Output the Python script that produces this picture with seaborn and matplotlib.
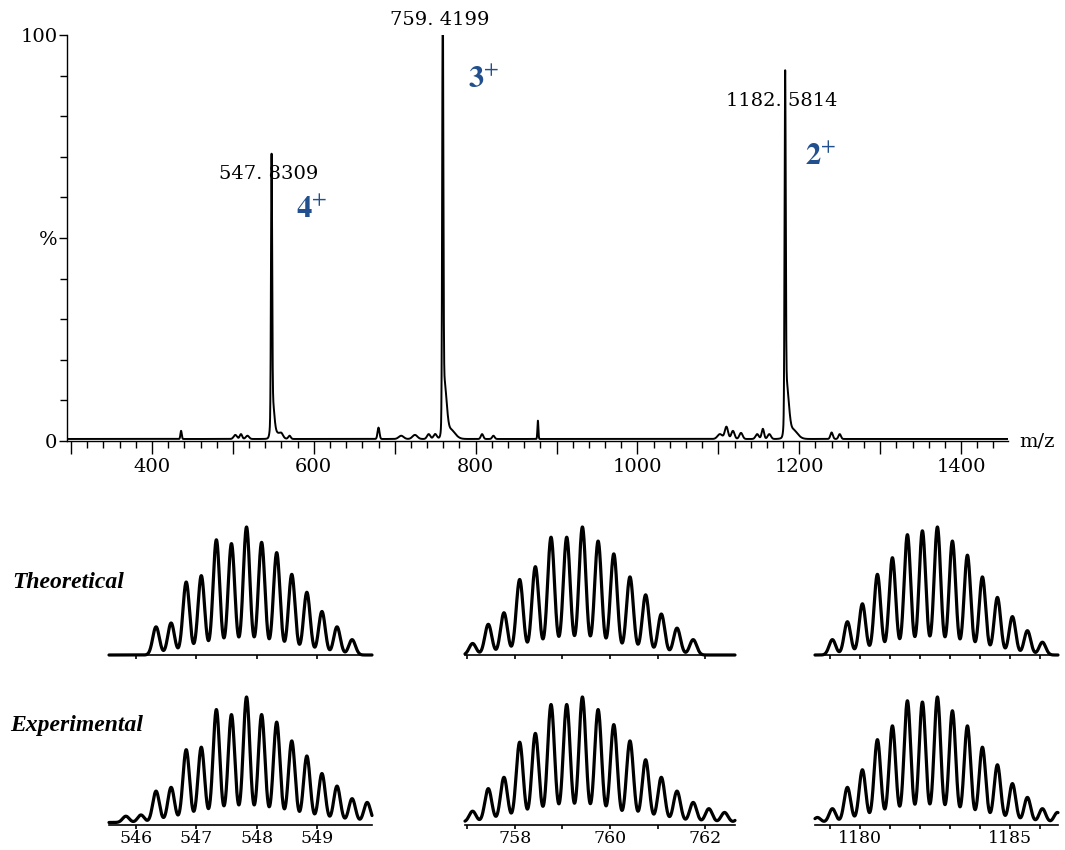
import numpy as np
import seaborn as sns
import matplotlib.pyplot as plt
from matplotlib.ticker import MultipleLocator, FixedLocator, FixedFormatter

sns.set_style('ticks')
plt.rcParams['font.family'] = ['DejaVu Serif']
plt.rcParams['mathtext.fontset'] = 'stix'
plt.rcParams['text.color'] = 'black'
plt.rcParams['axes.edgecolor'] = 'black'
plt.rcParams['xtick.color'] = 'black'
plt.rcParams['ytick.color'] = 'black'

# ---- isotope envelopes (m/z, relative intensity %) ----
mz4_theo = [546.33, 546.58, 546.83, 547.08, 547.33, 547.58, 547.83, 548.08,
            548.33, 548.58, 548.83, 549.08, 549.33, 549.58]
int4_theo = [22, 25, 57, 62, 90, 87, 100, 88, 80, 63, 49, 34, 22, 12]
mz4_exp = [545.83, 546.08, 546.33, 546.58, 546.83, 547.08, 547.33, 547.58, 547.83,
           548.08, 548.33, 548.58, 548.83, 549.08, 549.33, 549.58, 549.83]
int4_exp = [5, 6, 25, 28, 58, 60, 90, 86, 100, 86, 80, 65, 53, 39, 29, 19, 16]

mz3_theo = [757.11, 757.44, 757.77, 758.10, 758.43, 758.76, 759.09, 759.42,
            759.75, 760.08, 760.42, 760.75, 761.08, 761.41, 761.75]
int3_theo = [9, 24, 33, 59, 69, 92, 92, 100, 89, 79, 61, 47, 32, 21, 12]
mz3_exp = [756.78, 757.11, 757.44, 757.77, 758.10, 758.43, 758.76, 759.09, 759.42,
           759.75, 760.08, 760.42, 760.75, 761.08, 761.41, 761.75, 762.08, 762.41, 762.75]
int3_exp = [4, 9, 27, 36, 64, 71, 94, 94, 100, 90, 78, 65, 50, 36, 25, 16, 11, 8, 6]

mz2_theo = [1179.08, 1179.58, 1180.08, 1180.58, 1181.08, 1181.58, 1182.08, 1182.58,
            1183.08, 1183.58, 1184.08, 1184.58, 1185.08, 1185.58, 1186.08]
int2_theo = [12, 26, 40, 63, 76, 94, 97, 100, 89, 78, 61, 45, 30, 19, 10]
mz2_exp = [1178.08, 1178.58, 1179.08, 1179.58, 1180.08, 1180.58, 1181.08, 1181.58, 1182.08,
           1182.58, 1183.08, 1183.58, 1184.08, 1184.58, 1185.08, 1185.58, 1186.08, 1186.58]
int2_exp = [3, 4, 11, 28, 42, 66, 77, 97, 96, 100, 89, 77, 60, 46, 31, 20, 11, 8]

# ---- full scan: base peaks, their feet/tails, and small noise peaks ----
base_mz = [547.83, 759.42, 1182.58]
base_int = [62, 100, 80]
foot_mz = [548.5, 760.5, 1183.5, 550, 763, 1186, 554, 768, 1191]
foot_int = [6, 9, 9, 3.5, 7, 6.5, 1.5, 2.5, 2.5]
foot_sd = [1.8, 1.8, 1.8, 2, 2.2, 2.2, 5, 6, 6]
noise_mz = [436, 503, 510, 518, 560, 570, 680, 708, 725, 742, 750, 808, 822, 877,
            1102, 1110, 1118, 1128, 1148, 1155, 1163, 1240, 1250]
noise_int = [2, 1, 1.2, 0.8, 0.8, 0.8, 2.8, 0.8, 1, 1.2, 1.2, 1.2, 0.8, 4.5,
             1.2, 3, 2, 1.5, 1.2, 2.5, 1.2, 1.6, 1.2]
noise_sd = [0.8, 2, 1.5, 2, 2, 1.5, 1.2, 3, 3, 2, 2, 1.5, 1.5, 0.6,
            3, 2, 2, 2, 2, 1.5, 2, 1.5, 1.5]

peak_labels = ['547. 8309', '759. 4199', '1182. 5814']
charge_labels = [r'$\mathbf{4}^{+}$', r'$\mathbf{3}^{+}$', r'$\mathbf{2}^{+}$']
charge_pos = [(598, 57), (810, 89), (1226, 70)]


def profile(x, mz, inten, sd):
    x = np.asarray(x)[:, None]
    mz = np.asarray(mz, float)[None, :]
    inten = np.asarray(inten, float)[None, :]
    sd = np.broadcast_to(np.asarray(sd, float), mz.shape[1:])[None, :]
    return (inten * np.exp(-(x - mz) ** 2 / (2 * sd ** 2))).sum(axis=1)


fig = plt.figure(figsize=(10.65, 8.5), dpi=100)
W, H = 1065, 850


def rect(x0, x1, ytop, ybot):
    return [x0 / W, 1 - ybot / H, (x1 - x0) / W, (ybot - ytop) / H]


# ---------------- main spectrum ----------------
ax = fig.add_axes(rect(67, 1008, 35, 441))
grid = np.arange(295, 1458, 0.05)
spec = (0.5 + profile(grid, base_mz, base_int, 0.7)
        + profile(grid, foot_mz, foot_int, foot_sd)
        + profile(grid, noise_mz, noise_int, noise_sd))
sns.lineplot(x=grid, y=spec, ax=ax, color='black', linewidth=1.4, estimator=None)
ax.set_xlim(295, 1458)
ax.set_ylim(0, 100)
sns.despine(ax=ax)
ax.spines['left'].set_linewidth(1.0)
ax.spines['bottom'].set_linewidth(1.0)
xt = list(range(300, 1500, 100))
ax.xaxis.set_major_locator(FixedLocator(xt))
ax.xaxis.set_major_formatter(FixedFormatter([str(v) if v % 200 == 0 else '' for v in xt]))
ax.xaxis.set_minor_locator(MultipleLocator(20))
ax.yaxis.set_major_locator(FixedLocator([0, 50, 100]))
ax.yaxis.set_major_formatter(FixedFormatter(['0', '%', '100']))
ax.yaxis.set_minor_locator(MultipleLocator(10))
ax.tick_params(axis='x', which='major', length=9, width=1, labelsize=14, pad=3)
ax.tick_params(axis='x', which='minor', length=5, width=1)
ax.tick_params(axis='y', which='major', length=6, width=1, labelsize=14, pad=1)
ax.tick_params(axis='y', which='minor', length=5, width=1)
ax.set_xlabel('')
ax.text(1.012, 0, 'm/z', transform=ax.transAxes, fontsize=14, va='center', ha='left')

for lab, mz, h in zip(peak_labels, base_mz, base_int):
    ax.text(mz - 4, h + 1.5, lab, ha='center', va='bottom', fontsize=14, clip_on=False)
for lab, (px, py) in zip(charge_labels, charge_pos):
    ax.text(px, py, lab, ha='center', va='center', fontsize=22, color='#22508f')

# ---------------- isotope insets ----------------
cols = [
    (109, 372, (545.55, 549.91), [546, 547, 548, 549], ['546', '547', '548', '549'],
     mz4_theo, int4_theo, mz4_exp, int4_exp, 0.25),
    (465, 735, (756.95, 762.63), [757, 758, 759, 760, 761, 762], ['', '758', '', '760', '', '762'],
     mz3_theo, int3_theo, mz3_exp, int3_exp, 0.333),
    (815, 1058, (1178.5, 1186.6), list(range(1179, 1187)), ['', '1180', '', '', '', '', '1185', ''],
     mz2_theo, int2_theo, mz2_exp, int2_exp, 0.5),
]
rows = [(527, 655, 'theo'), (697, 825, 'exp')]

for x0, x1, xl, ticks, tlabs, mzt, itt, mze, ite, sp in cols:
    for ytop, ybot, kind in rows:
        a = fig.add_axes(rect(x0, x1, ytop, ybot))
        g = np.linspace(xl[0], xl[1], 2500)
        if kind == 'theo':
            y = profile(g, mzt, itt, 0.22 * sp)
        else:
            y = 2 + profile(g, mze, ite, 0.22 * sp)
        y = y * 100 / y.max()
        sns.lineplot(x=g, y=y, ax=a, color='black', linewidth=2.3, estimator=None)
        for ln in a.lines:
            ln.set_clip_on(False)
        a.set_xlim(*xl)
        a.set_ylim(0, 100)
        for s in ['left', 'right', 'top']:
            a.spines[s].set_visible(False)
        a.spines['bottom'].set_linewidth(1.2)
        a.set_yticks([])
        a.set_xticks(ticks)
        a.tick_params(axis='x', length=3, width=1.2, labelsize=12.5, pad=0.5)
        if kind == 'exp':
            a.set_xticklabels(tlabs)
        else:
            a.set_xticklabels([])
        a.set_facecolor('none')

fig.text(12 / W, 1 - 583 / H, 'Theoretical', fontsize=17, fontweight='bold', fontstyle='italic',
         family=['Liberation Serif'], va='center', ha='left')
fig.text(10 / W, 1 - 725 / H, 'Experimental', fontsize=17, fontweight='bold', fontstyle='italic',
         family=['Liberation Serif'], va='center', ha='left')

fig.savefig('out.png', dpi=100)
